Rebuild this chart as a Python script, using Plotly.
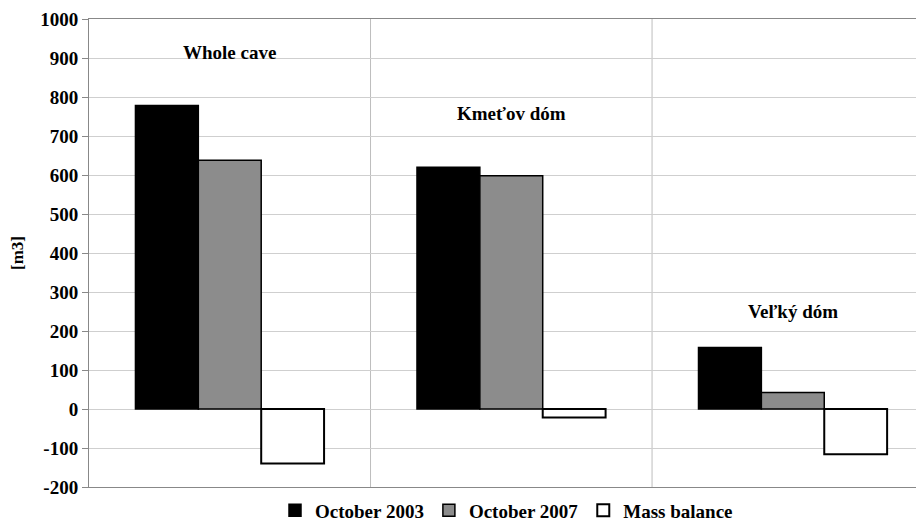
import plotly.graph_objects as go

categories = ["Whole cave", "Kmeťov dóm", "Veľký dóm"]
oct2003 = [778, 620, 158]
oct2007 = [638, 598, 42]
mass_balance = [-140, -22, -116]
label_y = [915, 757, 250]
y_ticks = list(range(-200, 1001, 100))
y_tick_text = [str(v) for v in y_ticks]

FONT = "Times New Roman, Liberation Serif, serif"

fig = go.Figure()
fig.add_trace(go.Bar(x=categories, y=oct2003, name="October 2003",
                     marker=dict(color="#000000", line=dict(color="#000000", width=1.5))))
fig.add_trace(go.Bar(x=categories, y=oct2007, name="October 2007",
                     marker=dict(color="#8c8c8c", line=dict(color="#000000", width=1.5))))
fig.add_trace(go.Bar(x=categories, y=mass_balance, name="Mass balance",
                     marker=dict(color="#ffffff", line=dict(color="#000000", width=2))))

for c, ly in zip(categories, label_y):
    fig.add_annotation(x=c, y=ly, text=c, showarrow=False,
                       font=dict(family=FONT, size=19, color="#000", weight="bold"))

# category separators
for i in range(len(categories)):
    fig.add_shape(type="line", xref="x", yref="paper", x0=i + 0.5, x1=i + 0.5, y0=0, y1=1,
                  line=dict(color="#bdbdbd", width=1), layer="below")

# page body has an 8px margin, so the figure is sized/offset to compensate
fig.update_layout(
    width=916, height=513,
    margin=dict(l=81, r=0, t=11, b=34, autoexpand=False),
    paper_bgcolor="white", plot_bgcolor="white",
    barmode="group", bargap=0.33, bargroupgap=0,
    font=dict(family=FONT, size=18, color="#000", weight="bold"),
    showlegend=True,
    legend=dict(orientation="h", x=0.5, xanchor="center", y=-0.05, yanchor="middle",
                font=dict(family=FONT, size=19, color="#000", weight="bold"),
                itemwidth=30, tracegroupgap=0, borderwidth=0),
    xaxis=dict(range=[-0.5, 2.466], showticklabels=False, showgrid=False, zeroline=False,
               showline=True, linecolor="#888888", linewidth=1, mirror=True, ticks="",
               automargin=False),
    yaxis=dict(range=[-200, 1000], tickvals=y_ticks, ticktext=y_tick_text,
               tickfont=dict(family=FONT, size=19, color="#000", weight="bold"),
               showgrid=True, gridcolor="#cfcfcf", gridwidth=1, zeroline=False,
               showline=True, linecolor="#888888", linewidth=1,
               ticks="outside", ticklen=6, tickcolor="#888888", automargin=False,
               title=dict(text="[m3]", font=dict(family=FONT, size=17, weight="bold"), standoff=12)),
)

fig.write_html("out.html")
